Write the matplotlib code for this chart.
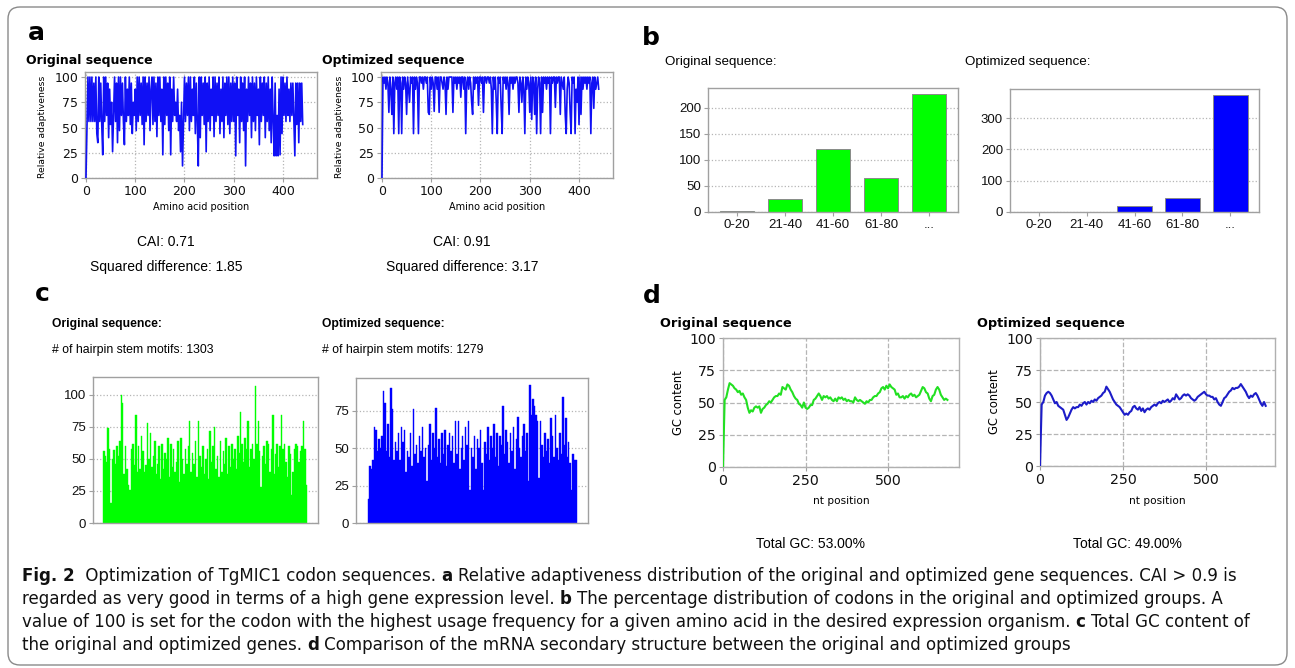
import numpy as np
import matplotlib
matplotlib.use("Agg")
import matplotlib.pyplot as plt
from matplotlib.patches import FancyBboxPatch
from matplotlib import font_manager
from matplotlib.font_manager import FontProperties

# === data ===
# a: relative adaptiveness, one value every 2 amino acids
adapt_orig = [0, 50, 100, 56, 100, 56, 100, 56, 94, 56,
              100, 44, 35, 100, 56, 94, 53, 23, 100, 56,
              100, 62, 94, 40, 88, 53, 75, 26, 62, 100,
              56, 94, 35, 100, 47, 100, 62, 94, 56, 33,
              100, 56, 88, 62, 100, 53, 94, 44, 75, 62,
              88, 47, 100, 56, 100, 62, 94, 53, 100, 33,
              100, 56, 94, 62, 100, 47, 88, 100, 53, 100,
              56, 94, 41, 100, 62, 100, 56, 88, 23, 100,
              53, 100, 62, 94, 47, 100, 23, 88, 56, 100,
              62, 75, 56, 88, 47, 62, 26, 75, 12, 56,
              100, 56, 94, 62, 100, 47, 100, 56, 88, 62,
              100, 44, 94, 56, 12, 100, 40, 100, 62, 94,
              53, 100, 26, 94, 56, 100, 47, 88, 62, 100,
              41, 100, 56, 94, 62, 100, 44, 88, 56, 100,
              40, 94, 62, 100, 53, 100, 44, 94, 56, 100,
              56, 94, 22, 100, 62, 88, 35, 100, 56, 94,
              47, 100, 12, 88, 56, 100, 62, 94, 40, 100,
              56, 94, 47, 100, 62, 88, 33, 100, 56, 94,
              62, 100, 40, 94, 56, 100, 47, 88, 35, 100,
              56, 22, 94, 22, 62, 22, 88, 23, 100, 44,
              100, 62, 94, 56, 100, 62, 88, 56, 94, 62,
              94, 56, 22, 94, 53, 94, 35, 94, 56, 94,
              53]
adapt_opt = [0, 100, 94, 100, 88, 100, 94, 65, 100, 88,
             63, 100, 44, 94, 100, 88, 100, 44, 100, 94,
             44, 100, 88, 100, 94, 63, 100, 88, 75, 100,
             94, 100, 44, 100, 88, 100, 94, 44, 100, 100,
             94, 100, 88, 100, 100, 94, 100, 65, 63, 100,
             88, 100, 94, 66, 100, 100, 88, 100, 65, 100,
             100, 94, 88, 100, 94, 63, 100, 88, 100, 100,
             100, 100, 65, 100, 94, 100, 88, 100, 94, 100,
             80, 100, 100, 88, 100, 44, 94, 100, 88, 100,
             94, 75, 63, 100, 88, 100, 94, 100, 72, 100,
             100, 94, 100, 65, 100, 100, 94, 100, 100, 94,
             100, 88, 44, 100, 88, 100, 75, 44, 100, 94,
             100, 70, 44, 100, 94, 100, 88, 100, 94, 63,
             100, 94, 100, 88, 100, 94, 100, 100, 94, 65,
             100, 94, 75, 100, 88, 44, 100, 88, 100, 94,
             65, 100, 58, 100, 94, 63, 100, 44, 88, 100,
             94, 44, 100, 65, 100, 94, 100, 88, 100, 94,
             100, 44, 100, 94, 100, 100, 70, 100, 94, 100,
             100, 63, 100, 94, 88, 100, 63, 44, 88, 100,
             94, 65, 44, 100, 94, 100, 44, 88, 75, 100,
             53, 100, 63, 100, 88, 100, 94, 100, 88, 100,
             94, 100, 44, 94, 100, 69, 100, 88, 94, 100,
             88]

# b: codon usage distribution
bins = ["0-20", "21-40", "41-60", "61-80", "..."]
codons_orig = [2, 25, 120, 66, 226]
codons_opt = [0, 0, 18, 45, 373]

# c: hairpin stem motifs
hairpin_orig = [56, 52, 48, 74, 58, 16, 50, 57, 46, 60,
                52, 64, 100, 94, 38, 60, 42, 30, 26, 58,
                62, 45, 84, 40, 60, 42, 68, 56, 40, 45,
                78, 50, 70, 44, 52, 64, 38, 46, 60, 34,
                62, 42, 55, 50, 66, 36, 62, 44, 58, 40,
                48, 64, 32, 66, 50, 38, 58, 46, 60, 80,
                40, 55, 46, 64, 36, 80, 52, 44, 60, 38,
                50, 58, 34, 72, 48, 60, 75, 42, 52, 36,
                64, 40, 56, 46, 66, 38, 60, 44, 62, 50,
                58, 42, 68, 55, 87, 62, 48, 66, 58, 80,
                44, 58, 62, 50, 107, 62, 80, 56, 28, 52,
                60, 46, 64, 62, 40, 58, 84, 38, 54, 62,
                44, 60, 84, 58, 62, 48, 36, 60, 54, 22,
                40, 58, 62, 60, 48, 56, 60, 80, 58, 30]
hairpin_opt = [16, 38, 36, 42, 64, 62, 48, 56, 50, 58,
               88, 80, 48, 66, 44, 90, 76, 42, 54, 48,
               60, 42, 64, 54, 62, 34, 48, 44, 60, 38,
               76, 46, 52, 40, 58, 48, 64, 44, 50, 28,
               52, 66, 42, 60, 50, 77, 44, 56, 40, 60,
               46, 62, 38, 52, 60, 48, 58, 40, 68, 46,
               68, 36, 50, 58, 42, 64, 52, 68, 22, 50,
               44, 58, 36, 56, 50, 62, 40, 22, 54, 46,
               64, 42, 58, 50, 66, 44, 60, 38, 58, 52,
               78, 46, 62, 54, 40, 60, 48, 64, 36, 56,
               71, 50, 44, 58, 66, 48, 60, 28, 92, 72,
               83, 78, 72, 68, 30, 68, 52, 44, 60, 48,
               56, 40, 70, 58, 44, 72, 50, 42, 60, 46,
               84, 52, 70, 44, 54, 40, 22, 46, 42, 42]

# d: GC content, one value every 5 nt
gc_orig = [0, 52, 54, 60, 65, 64, 63, 61, 60, 58, 59, 56, 57, 54, 52, 46, 42, 44, 43, 46,
           47, 46, 47, 42, 45, 46, 48, 49, 51, 50, 52, 54, 55, 55, 57, 56, 62, 61, 60, 64,
           63, 60, 58, 55, 53, 52, 49, 48, 46, 50, 46, 45, 46, 48, 48, 52, 53, 55, 57, 55,
           52, 55, 54, 55, 53, 54, 52, 51, 53, 51, 54, 53, 54, 52, 53, 51, 52, 51, 51, 50,
           54, 52, 51, 52, 51, 50, 49, 51, 50, 52, 52, 54, 55, 55, 57, 58, 61, 62, 60, 63,
           61, 64, 62, 61, 60, 56, 57, 54, 54, 55, 53, 55, 54, 56, 57, 55, 56, 54, 55, 56,
           59, 62, 61, 58, 57, 53, 51, 55, 56, 60, 62, 60, 56, 54, 52, 53, 52]
gc_opt = [0, 48, 50, 55, 57, 58, 57, 55, 52, 49, 50, 47, 46, 45, 44, 40, 36, 38, 41, 44,
          46, 45, 46, 46, 48, 47, 49, 50, 48, 50, 49, 51, 50, 52, 51, 53, 54, 55, 57, 58,
          62, 60, 58, 55, 52, 50, 48, 47, 46, 44, 42, 40, 41, 40, 42, 43, 46, 47, 45, 44,
          46, 43, 45, 42, 44, 45, 44, 46, 47, 48, 47, 49, 50, 49, 51, 50, 51, 52, 50, 51,
          53, 52, 56, 54, 52, 53, 55, 56, 55, 56, 55, 53, 52, 51, 52, 54, 55, 56, 57, 58,
          56, 55, 55, 54, 54, 52, 53, 50, 48, 47, 50, 53, 54, 56, 58, 59, 61, 60, 61, 61,
          62, 64, 62, 60, 58, 55, 53, 55, 54, 56, 57, 55, 52, 49, 47, 50, 47]

W, H = 1295, 668
GREEN = "#00ff00"
BLUE = "#0000ff"
FRAME = "#a0a0a0"
ARIAL = "Liberation Sans"


def pick_condensed():
    # look for a narrow / condensed face for the caption
    reg, bold = None, None
    for f in font_manager.fontManager.ttflist:
        narrow = ("Narrow" in f.name or "Condensed" in f.name
                  or f.stretch in ("condensed", "semi-condensed", "extra-condensed", 87.5, 75))
        if not narrow or f.style != "normal":
            continue
        w = f.weight if isinstance(f.weight, int) else {"normal": 400, "regular": 400,
                                                           "bold": 700}.get(f.weight, 400)
        if w == 400 and reg is None:
            reg = f.fname
        if w == 700 and bold is None:
            bold = f.fname
    if reg and bold:
        return FontProperties(fname=reg), FontProperties(fname=bold)
    return (FontProperties(family=ARIAL),
            FontProperties(family=ARIAL, weight="bold"))


cap_reg, cap_bold = pick_condensed()


def rect(l, t, r, b):
    return [l / W, 1 - b / H, (r - l) / W, (b - t) / H]


def fx(x):
    return x / W


def fy(y):
    return 1 - y / H


def style(ax, grid_axis="both", ls=":", family="DejaVu Sans", size=9):
    for s in ax.spines.values():
        s.set_color(FRAME)
        s.set_linewidth(1.0)
    ax.grid(True, axis=grid_axis, ls=ls, color="#b5b5b5", lw=0.9)
    ax.set_axisbelow(True)
    ax.tick_params(length=3, color=FRAME, labelsize=size, pad=2, labelcolor="#111111")
    for lab in ax.get_xticklabels() + ax.get_yticklabels():
        lab.set_family(family)


fig = plt.figure(figsize=(W / 100, H / 100), dpi=100)

# outer frame
fig.patches.append(FancyBboxPatch((0.08, 0.03), 12.79, 6.58,
                                  boxstyle="round,pad=0,rounding_size=0.12",
                                  transform=fig.dpi_scale_trans, fill=False,
                                  ec="#8a8a8a", lw=1.0))

# panel letters
for lab, x, y in [("a", 28, 40), ("b", 642, 45), ("c", 35, 301), ("d", 643, 303)]:
    fig.text(fx(x), fy(y), lab, fontsize=18, fontweight="bold", va="baseline",
             family="DejaVu Sans")

# === a ===
for vals, box, title, tx, cai, sq, cx in [
        (adapt_orig, (85, 72, 317, 178), "Original sequence", 26, "CAI: 0.71",
         "Squared difference: 1.85", 166),
        (adapt_opt, (381, 72, 613, 178), "Optimized sequence", 322, "CAI: 0.91",
         "Squared difference: 3.17", 462)]:
    ax = fig.add_axes(rect(*box))
    ax.plot(np.arange(len(vals)) * 2, vals, color="#1010f5", lw=1.2, zorder=3)
    ax.set_xlim(-2, 469)
    ax.set_ylim(0, 105)
    ax.set_xticks([0, 100, 200, 300, 400])
    ax.set_yticks([0, 25, 50, 75, 100])
    style(ax, size=9)
    ax.set_xlabel("Amino acid position", fontsize=7)
    ax.xaxis.label.set_va("center")
    ax.xaxis.set_label_coords(0.5, (box[3] - 207) / (box[3] - box[1]))
    ax.set_ylabel("Relative adaptiveness", fontsize=6.7)
    ax.yaxis.label.set_va("center")
    ax.yaxis.set_label_coords(-42 / (box[2] - box[0]), 0.48)
    fig.text(fx(tx), fy(64), title, fontsize=9, fontweight="bold", va="baseline",
             family="DejaVu Sans")
    fig.text(fx(cx), fy(246), cai, fontsize=10, ha="center", va="baseline", family=ARIAL)
    fig.text(fx(cx), fy(271), sq, fontsize=10, ha="center", va="baseline", family=ARIAL)

# === b ===
for vals, box, col, ymax, yt, title, tx in [
        (codons_orig, (708, 88, 958, 212), GREEN, 238, [0, 50, 100, 150, 200],
         "Original sequence:", 665),
        (codons_opt, (1010, 89, 1259, 212), BLUE, 393, [0, 100, 200, 300],
         "Optimized sequence:", 965)]:
    ax = fig.add_axes(rect(*box))
    ax.bar(range(len(bins)), vals, width=0.72, color=col, edgecolor="#8a8a8a", lw=0.7)
    ax.set_xlim(-0.6, 4.6)
    ax.set_ylim(0, ymax)
    ax.set_xticks(range(len(bins)))
    ax.set_xticklabels(bins)
    ax.set_yticks(yt)
    style(ax, grid_axis="y", family=ARIAL, size=9.5)
    fig.text(fx(tx), fy(65), title, fontsize=9.6, va="baseline", family=ARIAL)

# === c ===
for vals, box, col, xl, ymax, yt, title, motifs, tx in [
        (hairpin_orig, (93, 377, 318, 523), GREEN, (-7.4, 147.0), 114,
         [0, 25, 50, 75, 100], "Original sequence:", "# of hairpin stem motifs: 1303", 52),
        (hairpin_opt, (356, 378, 588, 523), BLUE, (-8.5, 146.9), 96.7,
         [0, 25, 50, 75], "Optimized sequence:", "# of hairpin stem motifs: 1279", 322)]:
    ax = fig.add_axes(rect(*box))
    ax.bar(np.arange(len(vals)), vals, width=1.0, color=col, edgecolor=col, lw=0.3)
    ax.set_xlim(*xl)
    ax.set_ylim(0, ymax)
    ax.set_xticks([])
    ax.set_yticks(yt)
    style(ax, grid_axis="y", family=ARIAL, size=9.5)
    fig.text(fx(tx), fy(327), title, fontsize=8.7, fontweight="bold", va="baseline",
             family=ARIAL)
    fig.text(fx(tx), fy(353), motifs, fontsize=8.8, va="baseline", family=ARIAL)

# === d ===
for vals, box, col, xmax, title, tx, total, cx in [
        (gc_orig, (723, 338, 959, 467), "#22e022", 715, "Original sequence", 660,
         "Total GC: 53.00%", 811),
        (gc_opt, (1040, 338, 1275, 466), "#1c1cc8", 708, "Optimized sequence", 977,
         "Total GC: 49.00%", 1127)]:
    ax = fig.add_axes(rect(*box))
    ax.plot(np.arange(len(vals)) * 5, vals, color=col, lw=1.5, zorder=3)
    ax.set_xlim(0, xmax)
    ax.set_ylim(0, 100)
    ax.set_xticks([0, 250, 500])
    ax.set_yticks([0, 25, 50, 75, 100])
    style(ax, ls="--", size=10.2)
    for s in ax.spines.values():
        s.set_color("#b0b0b0")
    ax.set_xlabel("nt position", fontsize=7.6)
    ax.xaxis.label.set_va("center")
    ax.xaxis.set_label_coords(0.5, (box[3] - 501) / (box[3] - box[1]))
    ax.set_ylabel("GC content", fontsize=8.3)
    ax.yaxis.label.set_va("center")
    ax.yaxis.set_label_coords(-45 / (box[2] - box[0]), 0.5)
    fig.text(fx(tx), fy(327), title, fontsize=9.3, fontweight="bold", va="baseline",
             family="DejaVu Sans")
    fig.text(fx(cx), fy(548), total, fontsize=10, ha="center", va="baseline", family=ARIAL)

# === caption ===
caption = [
    [("Fig. 2", True), (" Optimization of TgMIC1 codon sequences.", False), ("a", True),
     ("Relative adaptiveness distribution of the original and optimized gene sequences. CAI > 0.9 is", False)],
    [("regarded as very good in terms of a high gene expression level.", False), ("b", True),
     ("The percentage distribution of codons in the original and optimized groups. A", False)],
    [("value of 100 is set for the codon with the highest usage frequency for a given amino acid in the desired expression organism.", False),
     ("c", True), ("Total GC content of", False)],
    [("the original and optimized genes.", False), ("d", True),
     ("Comparison of the mRNA secondary structure between the original and optimized groups", False)],
]
renderer = fig.canvas.get_renderer()


def width_px(s, bold, size):
    fp = (cap_bold if bold else cap_reg).copy()
    fp.set_size(size)
    t = fig.text(0, 0, s, fontproperties=fp)
    w = t.get_window_extent(renderer).width
    t.remove()
    return w


def line_width(line, size):
    sp = width_px("a a", False, size) - width_px("aa", False, size)
    return sum(width_px(s, b, size) for s, b in line) + sp * (len(line) - 1)


# keep the longest caption lines inside the frame (reference ends near x=1265)
cap_size = 14.0 * min(1243 / line_width(caption[0], 14.0),
                      1235 / line_width(caption[2], 14.0))
cap_size = min(cap_size, 16.5)
space = width_px("a a", False, cap_size) - width_px("aa", False, cap_size)
for i, line in enumerate(caption):
    x = 22
    y = 581 + i * 23
    for j, (txt, bold) in enumerate(line):
        if j > 0:
            x += space
        fp = (cap_bold if bold else cap_reg).copy()
        fp.set_size(cap_size)
        t = fig.text(fx(x), fy(y), txt, fontproperties=fp, va="baseline", color="#111111")
        x += t.get_window_extent(renderer).width

fig.savefig("out.png", dpi=100)
